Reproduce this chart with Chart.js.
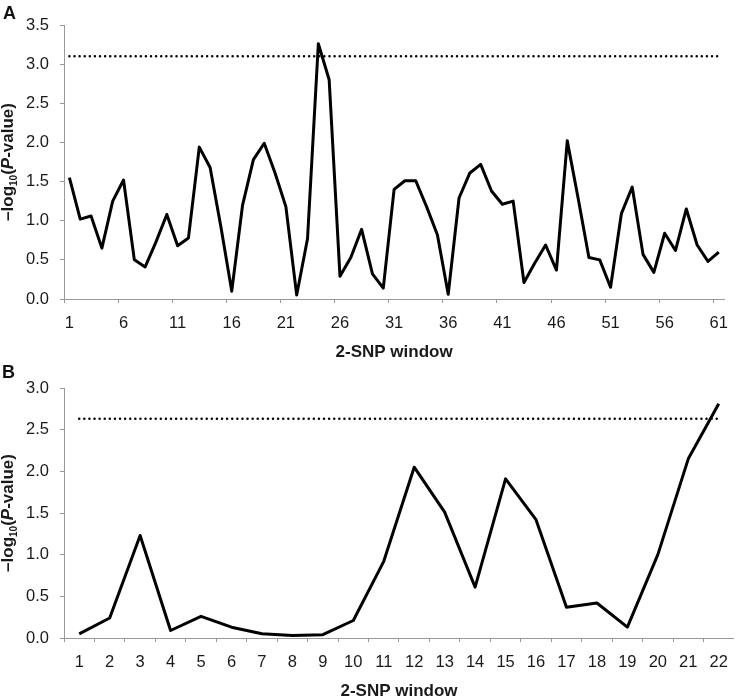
<!DOCTYPE html>
<html>
<head>
<meta charset="utf-8">
<script src="https://cdn.jsdelivr.net/npm/chart.js@4/dist/chart.umd.min.js"></script>
<style>
  body { margin: 0; background: #fff; }
  #wrap { position: relative; width: 739px; height: 700px; }
  canvas { position: absolute; left: 0; }
  #chartA { top: 0; }
  #chartB { top: 365px; }
  .panel { position: absolute; font: bold 18px "Liberation Sans", Arial, sans-serif; color: #111; }
</style>
</head>
<body>
<div id="wrap">
  <canvas id="chartA" width="739" height="365"></canvas>
  <canvas id="chartB" width="739" height="335"></canvas>
  <div class="panel" style="left:3px; top:3px">A</div>
  <div class="panel" style="left:2px; top:362px">B</div>
</div>
<script>
// ===== Data =====
const windowsA = [1, 2, 3, 4, 5, 6, 7, 8, 9, 10, 11, 12, 13, 14, 15, 16, 17, 18, 19, 20,
  21, 22, 23, 24, 25, 26, 27, 28, 29, 30, 31, 32, 33, 34, 35, 36, 37, 38, 39, 40,
  41, 42, 43, 44, 45, 46, 47, 48, 49, 50, 51, 52, 53, 54, 55, 56, 57, 58, 59, 60, 61];
const logPA = [1.55, 1.02, 1.06, 0.65, 1.25, 1.52, 0.50, 0.41, 0.73, 1.08,
  0.68, 0.78, 1.94, 1.68, 0.92, 0.10, 1.20, 1.78, 1.99, 1.61,
  1.18, 0.05, 0.77, 3.26, 2.80, 0.29, 0.53, 0.89, 0.32, 0.14,
  1.40, 1.51, 1.51, 1.18, 0.82, 0.06, 1.29, 1.61, 1.72, 1.38,
  1.21, 1.25, 0.21, 0.46, 0.69, 0.37, 2.02, 1.29, 0.53, 0.50,
  0.15, 1.09, 1.43, 0.57, 0.34, 0.84, 0.62, 1.15, 0.69, 0.48, 0.60];
const thresholdA = 3.10;

const windowsB = [1, 2, 3, 4, 5, 6, 7, 8, 9, 10, 11, 12, 13, 14, 15, 16, 17, 18, 19, 20, 21, 22];
const logPB = [0.05, 0.24, 1.23, 0.09, 0.26, 0.13, 0.05, 0.03, 0.04, 0.21,
  0.92, 2.05, 1.51, 0.61, 1.91, 1.42, 0.37, 0.42, 0.13, 1.00, 2.15, 2.81];
const thresholdB = 2.63;

// ===== Styles =====
const FONT = '"Liberation Sans", Arial, sans-serif';
const TEXT = '#1a1a1a';
const AXIS = '#999';

// y title with subscript and italic P
const yTitlePlugin = {
  id: 'yTitle',
  afterDraw(chart) {
    const { ctx, chartArea } = chart;
    const cy = (chartArea.top + chartArea.bottom) / 2;
    const cx = 13;
    const parts = [
      ['\u2013log', 'bold 17px ' + FONT, 0],
      ['10', 'bold 10px ' + FONT, 4],
      ['(', 'bold 17px ' + FONT, 0],
      ['P', 'italic bold 17px ' + FONT, 0],
      ['-value)', 'bold 17px ' + FONT, 0]
    ];
    ctx.save();
    let total = 0;
    parts.forEach(p => { ctx.font = p[1]; total += ctx.measureText(p[0]).width; });
    ctx.translate(cx, cy);
    ctx.rotate(-Math.PI / 2);
    ctx.fillStyle = TEXT;
    ctx.textAlign = 'left';
    ctx.textBaseline = 'alphabetic';
    let x = -total / 2;
    parts.forEach(p => {
      ctx.font = p[1];
      ctx.fillText(p[0], x, p[2]);
      x += ctx.measureText(p[0]).width;
    });
    ctx.restore();
  }
};

function buildChart(id, labels, values, threshold, yMax, every, topPad, xHeight, titlePad) {
  return new Chart(document.getElementById(id), {
    type: 'line',
    data: {
      labels: labels,
      datasets: [
        { data: values, borderColor: '#000', borderWidth: 3, borderJoinStyle: 'round',
          pointRadius: 0, tension: 0, fill: false },
        { data: labels.map(() => threshold), borderColor: '#000', borderWidth: 2.5,
          borderDash: [0, 5.1], borderCapStyle: 'round', pointRadius: 0, fill: false }
      ]
    },
    options: {
      responsive: false,
      animation: false,
      devicePixelRatio: 1,
      layout: { padding: { top: topPad, right: 4, left: 0, bottom: 0 } },
      plugins: { legend: { display: false }, tooltip: { enabled: false } },
      scales: {
        x: {
          type: 'category',
          offset: true,
          grid: {
            offset: true, drawOnChartArea: false, tickLength: 4,
            color: c => (c.index % every === 0 ? AXIS : 'rgba(0,0,0,0)')
          },
          border: { color: AXIS, width: 1 },
          ticks: {
            autoSkip: false, maxRotation: 0, padding: 11, color: TEXT,
            font: { family: FONT, size: 16.5 },
            callback: (v, i) => (i % every === 0 ? labels[i] : '')
          },
          title: {
            display: true, text: '2-SNP window', color: TEXT,
            font: { family: FONT, size: 17, weight: 'bold', lineHeight: 1 },
            padding: { top: 0, bottom: titlePad }
          },
          afterFit: s => { s.height = xHeight; }
        },
        y: {
          min: 0,
          max: yMax,
          grid: { drawOnChartArea: false, tickLength: 4, color: AXIS },
          border: { color: AXIS, width: 1 },
          ticks: {
            stepSize: 0.5, padding: 11, color: TEXT,
            font: { family: FONT, size: 16.5 },
            callback: v => v.toFixed(1)
          },
          afterFit: s => { s.width = 64; }
        }
      }
    },
    plugins: [yTitlePlugin]
  });
}

buildChart('chartA', windowsA, logPA, thresholdA, 3.5, 5, 25, 66, 4.5);
buildChart('chartB', windowsB, logPB, thresholdB, 3.0, 1, 23, 62, 0);
</script>
</body>
</html>
